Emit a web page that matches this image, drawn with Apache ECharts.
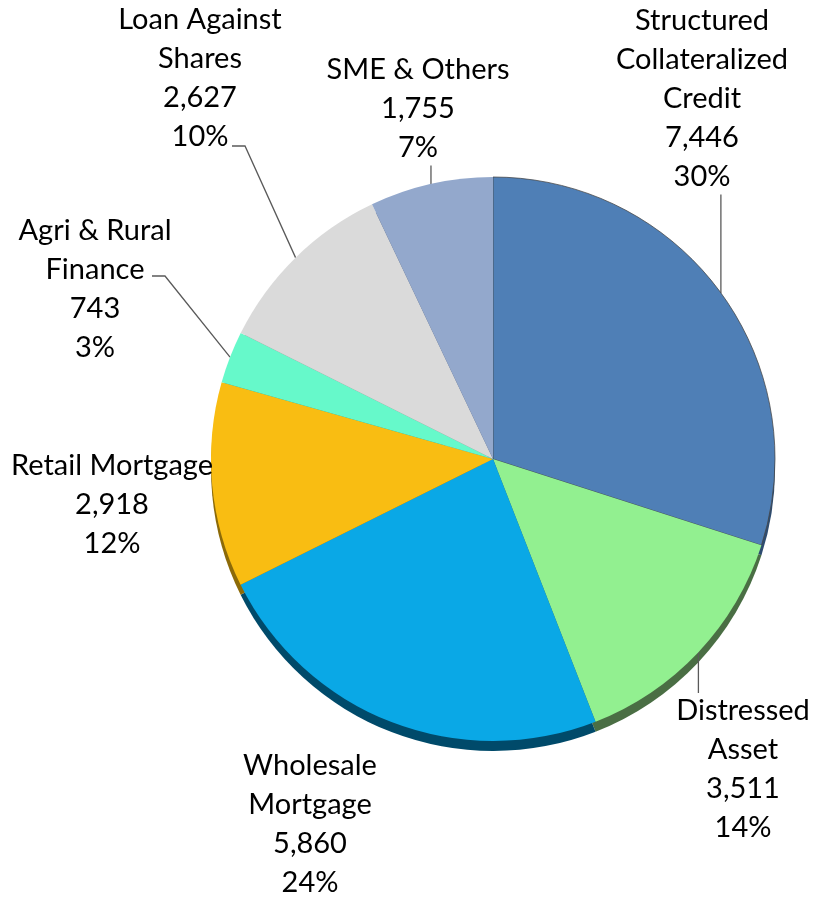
<!DOCTYPE html>
<html><head><meta charset="utf-8">
<script src="https://cdn.jsdelivr.net/npm/echarts@6/dist/echarts.min.js"></script>
<style>html,body{margin:0;padding:0;background:#fff}#c{width:814px;height:897px}</style>
</head><body><div id="c"></div>
<script>
// ---- data ----
const categories = ['Structured\nCollateralized\nCredit', 'Distressed\nAsset', 'Wholesale\nMortgage', 'Retail Mortgage', 'Agri & Rural\nFinance', 'Loan Against\nShares', 'SME & Others'];
const values = [7446, 3511, 5860, 2918, 743, 2627, 1755];
const percentLabels = [30, 14, 24, 12, 3, 10, 7];

// ---- styles / layout ----
const colors = ['#4F7FB6', '#92F090', '#0AA8E6', '#F9BD12', '#66F9CA', '#DADADA', '#93A8CC'];
const edgeColors = ['#2E4C70', '#4A6E44', '#004A6A', '#8C6A08', '#3A8E74', '#7E7E7E', '#55617A'];
const labelCenters = [[702, 99], [743, 769], [310, 824], [112, 505], [95, 289], [200, 78], [418, 109]];
const leaderKinds = ['up', 'down', null, null, 'elbow', 'elbow', 'up'];
const elbowEnds = [null, null, null, null, [57, -13], [32, 68], null];

const CX = 493, CY = 459, R = 282, DEPTH = 10;

const chart = echarts.init(document.getElementById('c'), null, { renderer: 'canvas' });

const frontData = categories.map((n, i) => ({
  name: n,
  value: values[i],
  itemStyle: Object.assign({ color: colors[i] }, i === 0 ? { borderColor: 'rgba(70,70,70,0.75)', borderWidth: 1 } : {}),
  labelLine: { show: leaderKinds[i] !== null }
}));
const backData = categories.map((n, i) => ({ name: n, value: values[i], itemStyle: { color: edgeColors[i] } }));

chart.setOption({
  animation: false,
  backgroundColor: '#ffffff',
  series: [
    {
      type: 'pie',
      z: 1,
      silent: true,
      center: [CX, CY + DEPTH],
      radius: [0, R],
      startAngle: 90,
      clockwise: true,
      label: { show: false },
      labelLine: { show: false },
      data: backData
    },
    {
      type: 'pie',
      z: 2,
      center: [CX, CY],
      radius: [0, R],
      startAngle: 90,
      clockwise: true,
      avoidLabelOverlap: false,
      label: {
        show: true,
        position: 'outside',
        color: '#000000',
        fontFamily: 'Lato',
        fontSize: 29,
        lineHeight: 39,
        align: 'center',
        formatter: p => p.name + '\n' + values[p.dataIndex].toLocaleString('en-US') + '\n' + percentLabels[p.dataIndex] + '%'
      },
      labelLine: { show: true, length: 20, length2: 10, lineStyle: { color: '#5A5A5A', width: 1.3 } },
      labelLayout: function (p) {
        const i = p.dataIndex;
        const c = labelCenters[i];
        const out = { x: c[0], y: c[1], align: 'center', verticalAlign: 'middle' };
        const kind = leaderKinds[i];
        if (kind && p.labelLinePoints) {
          const a = p.labelLinePoints[0];
          const h = p.labelRect.height;
          if (kind === 'up') {
            const e = [a[0], c[1] + h / 2 - 2];
            out.labelLinePoints = [a, e, e];
          } else if (kind === 'down') {
            const e = [a[0], c[1] - h / 2 + 2];
            out.labelLinePoints = [a, e, e];
          } else {
            const off = elbowEnds[i];
            const end = [c[0] + off[0], c[1] + off[1]];
            const mid = [end[0] + 13, end[1]];
            out.labelLinePoints = [a, mid, end];
          }
        }
        return out;
      },
      data: frontData
    }
  ]
});
</script></body></html>
